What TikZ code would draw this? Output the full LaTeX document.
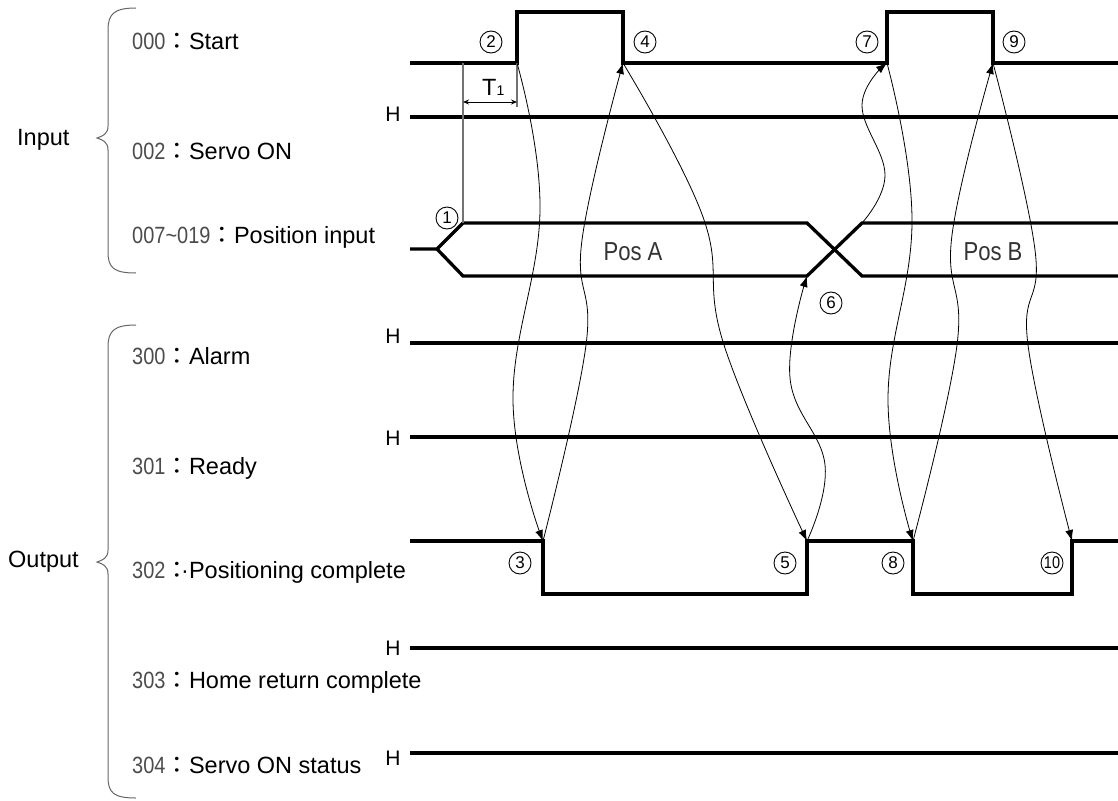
\documentclass[tikz,border=0pt]{standalone}
\usepackage{fontspec}
\setmainfont{Liberation Sans}
\newfontfamily\codefont[FakeStretch=0.85]{Liberation Sans}
\newfontfamily\cjk{Noto Sans CJK KR}
\usetikzlibrary{arrows.meta}

\newcommand{\sigtext}[2]{{\color{black!70}\codefont #1}{\cjk ：}#2}

\begin{document}
\begin{tikzpicture}[x=1pt,y=-1pt,
  wave/.style={line width=3.3pt,line join=miter},
  flow/.style={line width=0.8pt,-{Latex[length=11pt,width=8pt]}},
  guide/.style={line width=1.2pt,black!55},
  brc/.style={line width=1pt,black!60},
  num/.style={circle,draw,line width=0.9pt,inner sep=0pt,minimum size=22pt,font=\fontsize{17}{17}\selectfont},
  lbl/.style={anchor=base west,inner sep=0pt,font=\fontsize{23.5}{28}\selectfont},
  hlbl/.style={anchor=base,inner sep=0pt,font=\fontsize{21}{24}\selectfont},
  poslbl/.style={anchor=base,inner sep=0pt,font=\fontsize{26}{30}\selectfont\codefont\color{black!80}}]
\useasboundingbox (0,0) rectangle (1118,800);

\draw[brc] (136,8) .. controls (114,8) and (108,14) .. (108,30) -- (108,126)
  .. controls (108,134) and (103,136) .. (97,138) .. controls (103,140) and (108,142) .. (108,150)
  -- (108,252) .. controls (108,268) and (114,273) .. (136,273);
\draw[brc] (136,325) .. controls (114,325) and (108,331) .. (108,347) -- (108,550)
  .. controls (108,558) and (103,560) .. (97,562) .. controls (103,564) and (108,566) .. (108,574)
  -- (108,777) .. controls (108,793) and (114,798) .. (136,798);

\node[lbl] (inp) at (17,145) {Input};
\node[lbl] (outp) at (8,567) {Output};
\node[lbl] (l000) at (132,49) {\sigtext{000}{Start}};
\node[lbl] (l002) at (132,159) {\sigtext{002}{Servo ON}};
\node[lbl] (l007) at (132,243) {\sigtext{007\textasciitilde019}{Position input}};
\node[lbl] (l300) at (132,364) {\sigtext{300}{Alarm}};
\node[lbl] (l301) at (132,474) {\sigtext{301}{Ready}};
\node[lbl] (l302) at (132,578) {\sigtext{302}{\llap{\textperiodcentered}Positioning complete}};
\node[lbl] (l303) at (132,688) {\sigtext{303}{Home return complete}};
\node[lbl] (l304) at (132,773) {\sigtext{304}{Servo ON status}};

\node[hlbl] (h002) at (393,121) {H};
\node[hlbl] (h300) at (393,343) {H};
\node[hlbl] (h301) at (393,445) {H};
\node[hlbl] (h303) at (393,655) {H};
\node[hlbl] (h304) at (393,765) {H};

\coordinate (st1) at (517,63);
\coordinate (st2) at (623,63);
\coordinate (st3) at (887,63);
\coordinate (st4) at (993,63);
\coordinate (ps0) at (463,223);
\coordinate (ps1) at (807,276);
\coordinate (ps2) at (862,223);
\coordinate (pc1) at (543,541);
\coordinate (pc2) at (807,541);
\coordinate (pc3) at (913,541);
\coordinate (pc4) at (1072,541);

\draw[wave] (410,63) -- (st1) -- (517,12) -- (623,12) -- (st2) -- (st3) -- (887,12) -- (993,12) -- (st4) -- (1118,63);
\draw[wave] (410,117) -- (1118,117);
\draw[wave] (410,249) -- (437,249) -- (ps0) -- (807,223) -- (862,276) -- (1118,276);
\draw[wave] (437,249) -- (463,276) -- (ps1) -- (ps2) -- (1118,223);
\draw[wave] (410,343) -- (1118,343);
\draw[wave] (410,437) -- (1118,437);
\draw[wave] (410,541) -- (pc1) -- (543,594) -- (807,594) -- (pc2) -- (pc3) -- (913,594) -- (1072,594) -- (pc4) -- (1118,541);
\draw[wave] (410,648) -- (1118,648);
\draw[wave] (410,753) -- (1118,753);

\node[poslbl] (posa) at (633,260) {Pos A};
\node[poslbl] (posb) at (993,260) {Pos B};

\coordinate (t1a) at (463,102);
\coordinate (t1b) at (517,102);
\draw[guide] (463,63) -- (ps0);
\draw[guide] (st1) -- (517,107);
\draw[line width=0.9pt,{Stealth[length=6pt,width=5pt]}-{Stealth[length=6pt,width=5pt]}] (t1a) -- (t1b);
\node[anchor=base west,inner sep=0pt,font=\fontsize{23.5}{28}\selectfont] (t1) at (482,95) {T{\fontsize{14}{14}\selectfont 1}};

\node[num] (n1) at (447,218) {1};
\node[num] (n2) at (491,42) {2};
\node[num] (n3) at (520,563) {3};
\node[num] (n4) at (645,42) {4};
\node[num] (n5) at (785,563) {5};
\node[num] (n6) at (831,303) {6};
\node[num] (n7) at (867,42) {7};
\node[num] (n8) at (893,563) {8};
\node[num] (n9) at (1014,42) {9};
\node[num] (n10) at (1052,563) {\codefont 10};

\draw[flow] plot[smooth,tension=0.7] coordinates {(st1) (540,210) (513,400) (pc1)};
\draw[flow] plot[smooth,tension=0.7] coordinates {(pc1) (586,345) (582,240) (st2)};
\draw[flow] plot[smooth,tension=0.7] coordinates {(st2) (703,217) (724,345) (pc2)};
\draw[flow] plot[smooth,tension=0.7] coordinates {(pc2) (825,465) (790,378) (ps1)};
\draw[flow] plot[smooth,tension=0.7] coordinates {(ps2) (885,175) (862,105) (st3)};
\draw[flow] plot[smooth,tension=0.7] coordinates {(st3) (912,220) (888,400) (pc3)};
\draw[flow] plot[smooth,tension=0.7] coordinates {(pc3) (957,345) (952,235) (st4)};
\draw[flow] plot[smooth,tension=0.7] coordinates {(st4) (1035,250) (1028,345) (pc4)};
\end{tikzpicture}
\end{document}
